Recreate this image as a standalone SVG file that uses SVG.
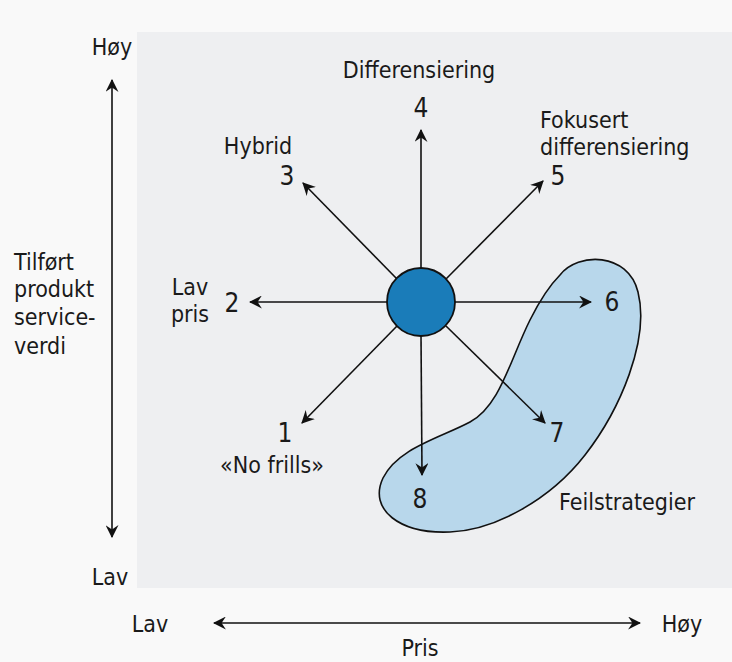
<svg xmlns="http://www.w3.org/2000/svg" width="732" height="662" viewBox="0 0 732 662">
<defs>
<style>
text{font-family:"DejaVu Sans Condensed","Liberation Sans Narrow","Open Sans",sans-serif;font-size:23px;fill:#1a1a1a;text-anchor:middle}
text.n{font-size:26px}
text.l{text-anchor:start}
.ln{stroke:#111;stroke-width:1.6;fill:none}
</style>
<marker id="ah" viewBox="0 0 12 12" refX="11" refY="6" markerWidth="13" markerHeight="13" markerUnits="userSpaceOnUse" orient="auto-start-reverse">
<path d="M0,0 L12,6 L0,12 L4,6 Z" fill="#111"/>
</marker>
</defs>
<rect width="732" height="662" fill="#f9f9f9"/>
<rect x="137" y="32" width="595" height="556" fill="#eeeff1"/>
<g id="blob">
<path d="M560,275 C578,252 628,252 638,292 C650,340 620,410 585,455 C550,500 495,530 450,532 C400,534 368,510 383,478 C398,448 440,438 470,422 C500,406 510,360 530,320 C540,300 550,285 560,275 Z" fill="#b8d7eb" stroke="#111" stroke-width="1.6"/>
<text x="627" y="510">Feilstrategier</text>
</g>
<g id="connectors">
<line class="ln" x1="112" y1="80" x2="112" y2="537" marker-start="url(#ah)" marker-end="url(#ah)"/>
<line class="ln" x1="214" y1="623" x2="640" y2="623" marker-start="url(#ah)" marker-end="url(#ah)"/>
<line class="ln" x1="421" y1="269" x2="421" y2="130" marker-end="url(#ah)"/>
<line class="ln" x1="397" y1="279" x2="303" y2="183" marker-end="url(#ah)"/>
<line class="ln" x1="446" y1="279" x2="543" y2="181" marker-end="url(#ah)"/>
<line class="ln" x1="388" y1="302" x2="250" y2="302" marker-end="url(#ah)"/>
<line class="ln" x1="455" y1="302" x2="591" y2="302" marker-end="url(#ah)"/>
<line class="ln" x1="397" y1="326" x2="302" y2="423" marker-end="url(#ah)"/>
<line class="ln" x1="446" y1="326" x2="545" y2="423" marker-end="url(#ah)"/>
<line class="ln" x1="421" y1="335" x2="422" y2="475" marker-end="url(#ah)"/>
</g>
<g id="center"><circle cx="421" cy="302" r="34" fill="#1a7cb9" stroke="#111" stroke-width="1.8"/></g>
<g id="axis-labels">
<text x="112" y="55">Høy</text>
<text x="110" y="585">Lav</text>
<text x="150" y="632">Lav</text>
<text x="682" y="632">Høy</text>
<text x="420" y="656">Pris</text>
<text class="l" x="14" y="270">Tilført</text>
<text class="l" x="14" y="297">produkt</text>
<text class="l" x="14" y="325">service-</text>
<text class="l" x="14" y="354">verdi</text>
</g>
<g id="s4"><text x="419" y="78">Differensiering</text><text class="n" x="421" y="117">4</text></g>
<g id="s3"><text x="258" y="154">Hybrid</text><text class="n" x="287" y="185">3</text></g>
<g id="s5"><text class="l" x="540" y="128">Fokusert</text><text class="l" x="540" y="155">differensiering</text><text class="n" x="558" y="185">5</text></g>
<g id="s2"><text x="190" y="295">Lav</text><text x="190" y="322">pris</text><text class="n" x="232" y="312">2</text></g>
<g id="s6"><text class="n" x="612" y="311">6</text></g>
<g id="s1"><text class="n" x="285" y="442">1</text><text x="272" y="473">«No frills»</text></g>
<g id="s7"><text class="n" x="557" y="442">7</text></g>
<g id="s8"><text class="n" x="420" y="508">8</text></g>
</svg>
